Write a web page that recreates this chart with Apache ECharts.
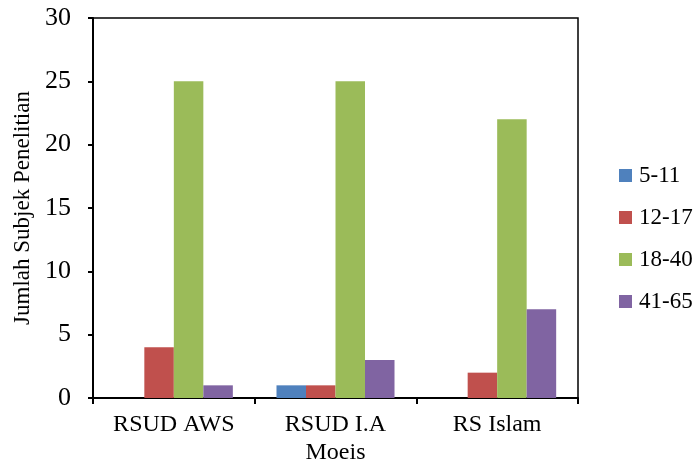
<!DOCTYPE html>
<html>
<head>
<meta charset="utf-8">
<script src="https://cdn.jsdelivr.net/npm/echarts@6/dist/echarts.min.js"></script>
<style>
  html, body { margin: 0; padding: 0; background: #fff; }
  #chart { width: 700px; height: 467px; }
</style>
</head>
<body>
<div id="chart"></div>
<script>
  // kategori rumah sakit
  var hospitals = ['RSUD AWS', 'RSUD I.A\nMoeis', 'RS Islam'];
  // kelompok umur
  var age5to11 = [0, 1, 0];
  var age12to17 = [4, 1, 2];
  var age18to40 = [25, 25, 22];
  var age41to65 = [1, 3, 7];

  var font = '"Liberation Serif", "Times New Roman", serif';
  var myChart = echarts.init(document.getElementById('chart'));

  function makeBar(name, data, color) {
    return {
      name: name,
      type: 'bar',
      data: data,
      barGap: '0%',
      barCategoryGap: '27%',
      itemStyle: { color: color }
    };
  }

  var option = {
    animation: false,
    backgroundColor: '#fff',
    textStyle: { fontFamily: font, color: '#000' },
    grid: {
      left: 93, right: 122, top: 18, bottom: 69,
      show: true,
      borderColor: '#000',
      borderWidth: 1.5,
      backgroundColor: 'transparent'
    },
    legend: {
      orient: 'vertical',
      left: 619,
      top: 164,
      padding: 0,
      icon: 'rect',
      itemWidth: 13,
      itemHeight: 13,
      itemGap: 19,
      textStyle: { fontFamily: font, fontSize: 23, color: '#000', padding: [0, 0, 0, 2] },
      data: ['5-11', '12-17', '18-40', '41-65']
    },
    xAxis: {
      type: 'category',
      data: hospitals,
      axisLine: { lineStyle: { color: '#000', width: 2 } },
      axisTick: { show: true, length: 6, lineStyle: { color: '#000', width: 2 } },
      axisLabel: { fontFamily: font, fontSize: 24, color: '#000', margin: 13, lineHeight: 28 }
    },
    yAxis: {
      type: 'value',
      min: 0,
      max: 30,
      interval: 5,
      name: 'Jumlah Subjek Penelitian',
      nameLocation: 'middle',
      nameGap: 59,
      nameTextStyle: { fontFamily: font, fontSize: 23, color: '#000' },
      axisLine: { show: true, lineStyle: { color: '#000', width: 2 } },
      axisTick: { show: true, length: 5, lineStyle: { color: '#000', width: 2 } },
      axisLabel: { fontFamily: font, fontSize: 26, color: '#000', margin: 22 },
      splitLine: { show: false }
    },
    series: [
      makeBar('5-11', age5to11, '#4F81BD'),
      makeBar('12-17', age12to17, '#C0504D'),
      makeBar('18-40', age18to40, '#9BBB59'),
      makeBar('41-65', age41to65, '#8064A2')
    ]
  };

  myChart.setOption(option);
</script>
</body>
</html>
